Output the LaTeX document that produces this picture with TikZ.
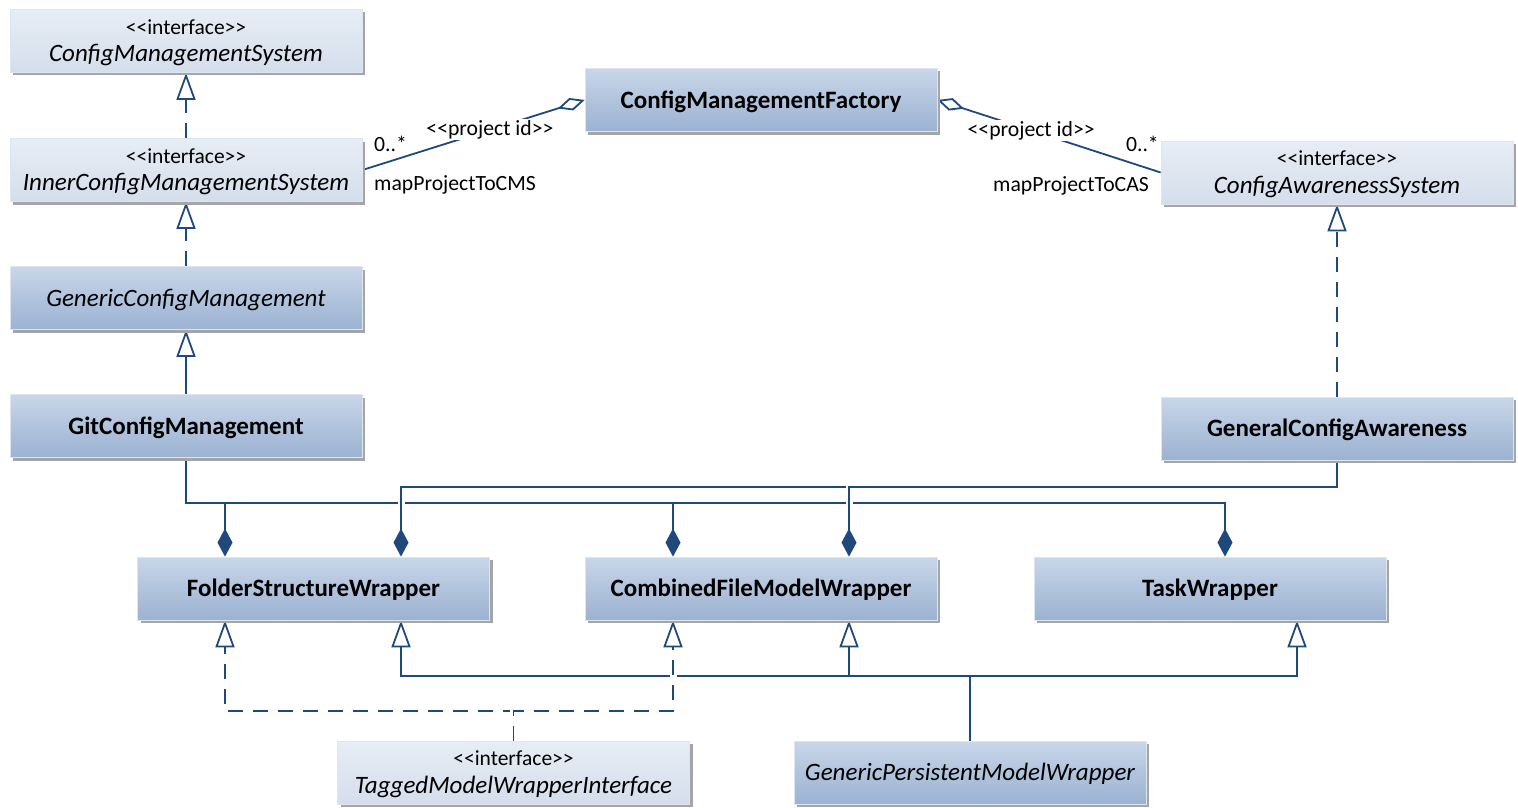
\documentclass[tikz,border=0pt]{standalone}
\usepackage{fontspec}
\setmainfont{Carlito}
\usetikzlibrary{arrows.meta,shadows,backgrounds,calc}

\definecolor{umlline}{RGB}{31,73,125}
\definecolor{clstop}{RGB}{200,214,232}
\definecolor{clsbot}{RGB}{155,178,210}
\definecolor{iftop}{RGB}{231,237,245}
\definecolor{ifbot}{RGB}{212,222,235}
\definecolor{boxrim}{RGB}{222,228,240}
\definecolor{boxshade}{RGB}{165,165,165}

\newcommand{\stereo}[1]{{\fontsize{21.5}{28}\selectfont <{}<#1>{}>}}

\tikzset{
  box/.style={rectangle, minimum width=352pt, minimum height=63pt, inner sep=0pt,
    draw=boxrim, line width=0.8pt, align=center, text depth=1pt,
    font=\fontsize{25}{27.5}\selectfont,
    drop shadow={shadow xshift=3pt, shadow yshift=-3pt, fill=boxshade, opacity=1}},
  cls/.style={box, top color=clstop, bottom color=clsbot},
  iface/.style={box, top color=iftop, bottom color=ifbot},
  lbl/.style={font=\fontsize{21.7}{24}\selectfont, inner sep=1pt},
  conn/.style={draw=umlline, line width=1.8pt},
  gen/.style={conn, -{Triangle[length=27pt, width=19pt, fill=white]}},
  real/.style={gen, dash pattern=on 15pt off 10pt},
  comp/.style={conn, -{Diamond[length=28pt, width=15pt, fill=umlline]}},
  agg/.style={conn, -{Diamond[length=28pt, width=13pt, fill=white]}},
  halo/.style={preaction={draw=white, line width=7pt, solid, -}}
}

\begin{document}
\begin{tikzpicture}[x=1pt, y=-1pt]
\useasboundingbox (0,0) rectangle (1518,808);

% classes and interfaces
\node[iface] (cms)  at (186,41)    {\stereo{interface}\\ \itshape ConfigManagementSystem};
\node[iface] (icms) at (186,170)   {\stereo{interface}\\ \itshape InnerConfigManagementSystem};
\node[cls]   (gcm)  at (186,298)   {\itshape GenericConfigManagement};
\node[cls]   (git)  at (186,426)   {\bfseries GitConfigManagement};
\node[cls]   (cmf)  at (761,100)   {\bfseries ConfigManagementFactory};
\node[iface] (cas)  at (1337,172.5){\stereo{interface}\\ \itshape ConfigAwarenessSystem};
\node[cls]   (gca)  at (1337,428.5){\bfseries GeneralConfigAwareness};
\node[cls]   (fsw)  at (313.5,588.5){\bfseries FolderStructureWrapper};
\node[cls]   (cfmw) at (761,588.5) {\bfseries CombinedFileModelWrapper};
\node[cls]   (tw)   at (1210,588.5){\bfseries TaskWrapper};
\node[iface] (tmwi) at (513.5,772.5){\stereo{interface}\\ \itshape TaggedModelWrapperInterface};
\node[cls]   (gpmw) at (970,772.5) {\itshape GenericPersistentModelWrapper};

% bus junctions
\coordinate (gitbus) at (186,503);
\coordinate (gcabus) at (1337,487);
\coordinate (gpbus)  at (970,676);
\coordinate (tbus)   at (513.5,711);

% association end labels
\node[lbl, anchor=base west] (m1) at (373,151) {0..*};
\node[lbl, anchor=base west] (r1) at (373,190) {mapProjectToCMS};
\node[lbl, anchor=base east] (m2) at (1160,151) {0..*};
\node[lbl, anchor=base east] (r2) at (1150,191) {mapProjectToCAS};

\begin{scope}[on background layer]
  % interface hierarchy on the left
  \draw[real] (icms.north) -- (cms.south);
  \draw[real] (gcm.north) -- (icms.south);
  \draw[gen]  (git.north) -- (gcm.south);
  \draw[real] (gca.north) -- (cas.south);

  % factory maps
  \draw[agg] (icms.east) -- node[pos=0.574, lbl, fill=white] (q1) {<{}<project id>{}>} (cmf.west);
  \draw[agg] (cas.west)  -- node[pos=0.58,  lbl, fill=white] (q2) {<{}<project id>{}>} (cmf.east);

  % compositions owned by GitConfigManagement
  \draw[comp] (git.south) -- (gitbus) -| ([xshift=-88.5pt]fsw.north);
  \draw[comp] (git.south) -- (gitbus) -| ([xshift=-88pt]cfmw.north);
  \draw[comp] (git.south) -- (gitbus) -| ([xshift=15pt]tw.north);

  % compositions owned by GeneralConfigAwareness (jumping the lower bus)
  \draw[comp, halo] (gca.south) -- (gcabus) -| ([xshift=87.5pt]fsw.north);
  \draw[comp, halo] (gca.south) -- (gcabus) -| ([xshift=88pt]cfmw.north);

  % generalisations to the persistent model wrapper
  \draw[gen] (gpmw.north) -- (gpbus) -| ([xshift=87.5pt]fsw.south);
  \draw[gen] (gpmw.north) -- (gpbus) -| ([xshift=88pt]cfmw.south);
  \draw[gen] (gpmw.north) -- (gpbus) -| ([xshift=87pt]tw.south);

  % realisations of the tagged interface
  \draw[real, halo] (tmwi.north) -- (tbus) -| ([xshift=-88.5pt]fsw.south);
  \draw[real, halo] (tmwi.north) -- (tbus) -| ([xshift=-88pt]cfmw.south);
\end{scope}
\end{tikzpicture}
\end{document}
